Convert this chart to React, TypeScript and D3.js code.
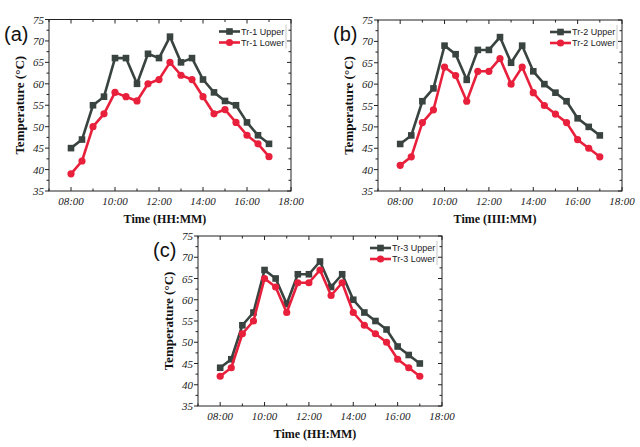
import React from "react";
import { line, range, scaleLinear } from "d3";

const times = [
  "08:00", "08:30", "09:00", "09:30", "10:00", "10:30", "11:00", "11:30", "12:00", "12:30",
  "13:00", "13:30", "14:00", "14:30", "15:00", "15:30", "16:00", "16:30", "17:00",
];
const xTickLabels = ["08:00", "10:00", "12:00", "14:00", "16:00", "18:00"];
const yTicks = [35, 40, 45, 50, 55, 60, 65, 70, 75];

const tr1Upper = [45, 47, 55, 57, 66, 66, 60, 67, 66, 71, 65, 66, 61, 58, 56, 55, 51, 48, 46];
const tr1Lower = [39, 42, 50, 53, 58, 57, 56, 60, 61, 65, 62, 61, 57, 53, 54, 51, 48, 46, 43];
const tr2Upper = [46, 48, 56, 59, 69, 67, 61, 68, 68, 71, 65, 69, 63, 60, 58, 56, 52, 50, 48];
const tr2Lower = [41, 43, 51, 54, 64, 62, 56, 63, 63, 66, 60, 64, 58, 55, 53, 51, 47, 45, 43];
const tr3Upper = [44, 46, 54, 57, 67, 65, 59, 66, 66, 69, 63, 66, 60, 57, 55, 53, 49, 47, 45];
const tr3Lower = [42, 44, 52, 55, 65, 63, 57, 64, 64, 67, 61, 64, 57, 54, 52, 50, 46, 44, 42];

const UPPER = "#39433f";
const LOWER = "#e8203c";
const serif = "'Liberation Serif', 'Times New Roman', serif";
const sans = "'Liberation Sans', Arial, sans-serif";

const toHours = (t: string) => {
  const [h, m] = t.split(":").map(Number);
  return h + m / 60;
};

type PanelProps = {
  tag: string;
  name: string;
  xTitle: string;
  upper: number[];
  lower: number[];
  x0: number;
  x1: number;
  y0: number;
  y1: number;
};

function Panel({ tag, name, xTitle, upper, lower, x0, x1, y0, y1 }: PanelProps) {
  const x = scaleLinear().domain([7, 18]).range([x0, x1]);
  const y = scaleLinear().domain([35, 75]).range([y1, y0]);
  const hours = times.map(toHours);

  const path = line<number>()
    .x((_, i) => x(hours[i]))
    .y((v) => y(v));

  const xMinor = range(7, 18, 2);
  const yMinor = range(37.5, 75, 5);
  const legendX = x1 - 72;
  const legendY = y0 + 12;

  return (
    <g>
      <rect x={x0} y={y0} width={x1 - x0} height={y1 - y0} fill="none" stroke="#222" strokeWidth={1} />
      {/* x ticks, bottom and top */}
      {xTickLabels.map((t) => {
        const px = x(toHours(t));
        return (
          <g key={`xt-${t}`}>
            <line x1={px} x2={px} y1={y1} y2={y1 - 4} stroke="#222" />
            <line x1={px} x2={px} y1={y0} y2={y0 + 4} stroke="#222" />
            <text
              x={px}
              y={y1 + 14}
              textAnchor="middle"
              fontFamily={serif}
              fontStyle="italic"
              fontSize={11}
              fill="#222"
            >
              {t}
            </text>
          </g>
        );
      })}
      {xMinor.map((h) => (
        <g key={`xm-${h}`}>
          <line x1={x(h)} x2={x(h)} y1={y1} y2={y1 - 2.5} stroke="#222" />
          <line x1={x(h)} x2={x(h)} y1={y0} y2={y0 + 2.5} stroke="#222" />
        </g>
      ))}
      {/* y ticks */}
      {yTicks.map((v) => (
        <g key={`yt-${v}`}>
          <line x1={x0} x2={x0 - 4} y1={y(v)} y2={y(v)} stroke="#222" />
          <line x1={x1} x2={x1 - 4} y1={y(v)} y2={y(v)} stroke="#222" />
          <text
            x={x0 - 5}
            y={y(v) + 4}
            textAnchor="end"
            fontFamily={serif}
            fontStyle="italic"
            fontSize={11}
            fill="#222"
          >
            {v}
          </text>
        </g>
      ))}
      {yMinor.map((v) => (
        <g key={`ym-${v}`}>
          <line x1={x0} x2={x0 - 2.5} y1={y(v)} y2={y(v)} stroke="#222" />
          <line x1={x1} x2={x1 - 2.5} y1={y(v)} y2={y(v)} stroke="#222" />
        </g>
      ))}

      <path d={path(upper) ?? ""} fill="none" stroke={UPPER} strokeWidth={2.6} strokeLinejoin="round" />
      {upper.map((v, i) => (
        <rect key={`u-${i}`} x={x(hours[i]) - 3.3} y={y(v) - 3.3} width={6.6} height={6.6} fill={UPPER} />
      ))}
      <path d={path(lower) ?? ""} fill="none" stroke={LOWER} strokeWidth={2.6} strokeLinejoin="round" />
      {lower.map((v, i) => (
        <circle key={`l-${i}`} cx={x(hours[i])} cy={y(v)} r={3.6} fill={LOWER} />
      ))}

      {/* legend */}
      <line x1={x1 - 5} x2={x1 - 5} y1={legendY - 7} y2={legendY + 17} stroke="#bbb" strokeWidth={0.8} />
      {[
        { label: `${name} Upper`, color: UPPER, square: true },
        { label: `${name} Lower`, color: LOWER, square: false },
      ].map((d, i) => {
        const ly = legendY + i * 11;
        return (
          <g key={d.label}>
            <line x1={legendX} x2={legendX + 21} y1={ly} y2={ly} stroke={d.color} strokeWidth={2.6} />
            {d.square ? (
              <rect x={legendX + 7.2} y={ly - 3.3} width={6.6} height={6.6} fill={d.color} />
            ) : (
              <circle cx={legendX + 10.5} cy={ly} r={3.6} fill={d.color} />
            )}
            <text x={legendX + 22} y={ly + 3.2} fontFamily={sans} fontSize={9} fill="#222">
              {d.label}
            </text>
          </g>
        );
      })}

      <text x={x0 - 45} y={y0 + 21} fontFamily={sans} fontSize={20} fill="#111">
        {tag}
      </text>
      <text
        transform={`translate(${x0 - 25},${(y0 + y1) / 2}) rotate(-90)`}
        textAnchor="middle"
        fontFamily={serif}
        fontWeight="bold"
        fontSize={13}
        fill="#111"
      >
        Temperature (°C)
      </text>
      <text
        x={(x0 + x1) / 2 - 5}
        y={y1 + 32}
        textAnchor="middle"
        fontFamily={serif}
        fontWeight="bold"
        fontSize={12}
        fill="#111"
      >
        {xTitle}
      </text>
    </g>
  );
}

export default function App() {
  return (
    <svg
      width={640}
      height={447}
      viewBox="0 0 640 447"
      style={{ position: "absolute", left: 0, top: 0, background: "#fff" }}
    >
      <Panel tag="(a)" name="Tr-1" xTitle="Time (HH:MM)" upper={tr1Upper} lower={tr1Lower} x0={49} x1={291} y0={19.5} y1={191} />
      <Panel tag="(b)" name="Tr-2" xTitle="Time (IIII:MM)" upper={tr2Upper} lower={tr2Lower} x0={378} x1={622} y0={20} y1={191} />
      <Panel tag="(c)" name="Tr-3" xTitle="Time (HH:MM)" upper={tr3Upper} lower={tr3Lower} x0={198} x1={442} y0={236} y1={406} />
    </svg>
  );
}
